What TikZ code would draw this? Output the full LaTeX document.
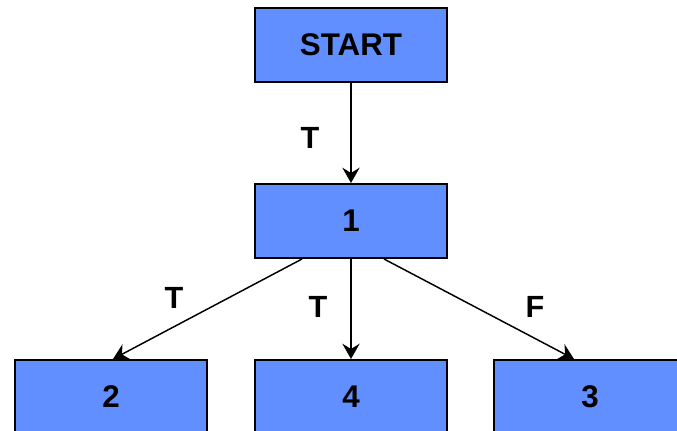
\documentclass[tikz,border=0pt]{standalone}
\usepackage{fontspec}
\setmainfont{Liberation Sans}
\usetikzlibrary{arrows.meta}
\definecolor{boxblue}{RGB}{98,143,255}
\tikzset{
  box/.style={draw=black, line width=1.5pt, fill=boxblue, minimum width=144pt,
    minimum height=55.5pt, inner sep=0pt, font=\bfseries\fontsize{23.5}{26}\selectfont},
  lbl/.style={font=\bfseries\fontsize{23}{26}\selectfont},
  edge/.style={line width=1.1pt, -{Stealth[length=11.5pt,width=13pt,inset=4pt]}}
}
\begin{document}
\begin{tikzpicture}[x=0.75pt,y=-0.75pt]
      \useasboundingbox (0,0) rectangle (677,431);
      \clip (0,0) rectangle (677,431);
      \draw
        (351,45) node[box] (start){START}
        (351,221) node[box] (1){1}
        (111,397) node[box] (2){2}
        (351,397) node[box] (4){4}
        (590,397) node[box] (3){3};
      \draw
        (310,138) node[lbl] (tstart){T}
        (174,298) node[lbl] (t2){T}
        (318,307) node[lbl] (t4){T}
        (535,307) node[lbl] (f3){F};
      \begin{scope}[edge]
        \draw (start) to (1);
        \draw ([xshift=-36.75pt]1.south) to ([xshift=1.5pt]2.north);
        \draw (1) to (4);
        \draw ([xshift=24.75pt]1.south) to ([xshift=-12pt]3.north);
      \end{scope}
    \end{tikzpicture}
\end{document}
